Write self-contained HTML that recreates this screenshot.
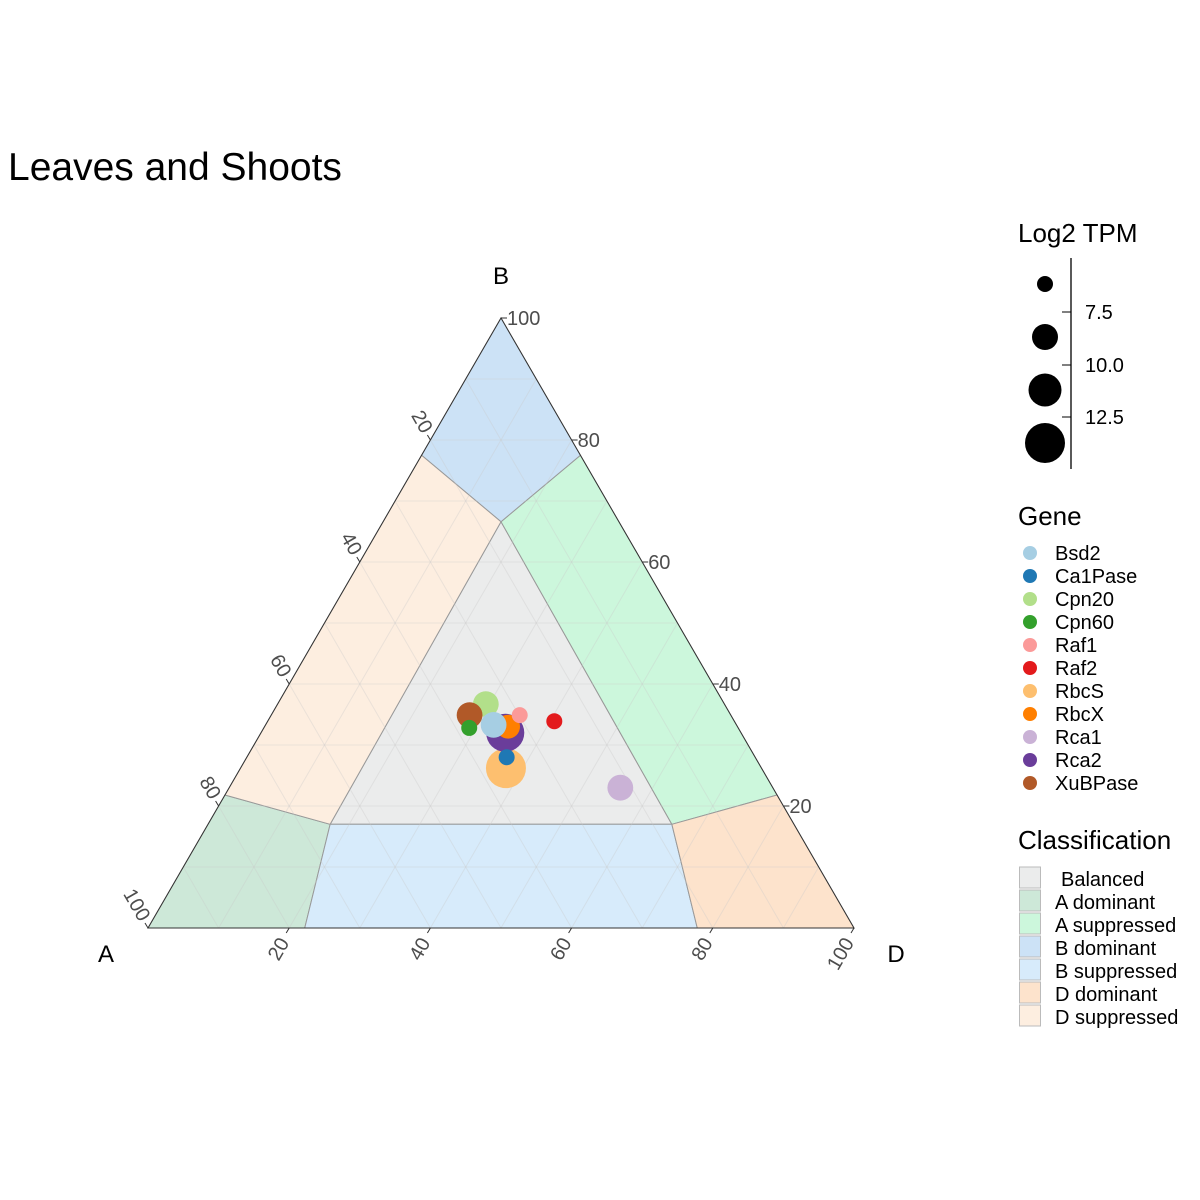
<!DOCTYPE html>
<html><head><meta charset="utf-8"><style>
body{margin:0;background:#fff;}
svg{display:block;font-family:"Liberation Sans",Arial,sans-serif;}
</style></head><body>
<svg id="chart" width="1200" height="1200" viewBox="0 0 1200 1200">
<text x="8" y="180" font-size="39" fill="#000">Leaves and Shoots</text>
<g id="regions"></g>
<g id="grid"></g>
<g id="axes"></g>
<g id="points"></g>
<text x="106" y="962" font-size="24" text-anchor="middle">A</text>
<text x="501" y="284" font-size="24" text-anchor="middle">B</text>
<text x="896" y="962" font-size="24" text-anchor="middle">D</text>
<g>
<text x="1018" y="242" font-size="26">Log2 TPM</text>
<line x1="1071" y1="258" x2="1071" y2="469" stroke="#000" stroke-width="1.3"/>
<line x1="1062" y1="312" x2="1071" y2="312" stroke="#000"/><text x="1085" y="319" font-size="20">7.5</text>
<line x1="1062" y1="365" x2="1071" y2="365" stroke="#000"/><text x="1085" y="372" font-size="20">10.0</text>
<line x1="1062" y1="417" x2="1071" y2="417" stroke="#000"/><text x="1085" y="424" font-size="20">12.5</text>
<circle cx="1045" cy="284" r="8"/><circle cx="1045" cy="337" r="13"/><circle cx="1045" cy="390" r="16.5"/><circle cx="1045" cy="443" r="20"/>
</g>
<g id="gene-legend">
<text x="1018" y="525" font-size="26">Gene</text>
</g>
<g id="class-legend">
<text x="1018" y="849" font-size="26">Classification</text>
</g>
</svg>
<script>
const NS="http://www.w3.org/2000/svg";
const geneNames=["Bsd2","Ca1Pase","Cpn20","Cpn60","Raf1","Raf2","RbcS","RbcX","Rca1","Rca2","XuBPase"];
const geneColors=["#a6cee3","#1f78b4","#b2df8a","#33a02c","#fb9a99","#e31a1c","#fdbf6f","#ff7f00","#cab2d6","#6a3d9a","#b15928"];
const valA=[0.344,0.352,0.338,0.381,0.299,0.255,0.362,0.325,0.216,0.334,0.370];
const valB=[0.333,0.280,0.367,0.328,0.349,0.339,0.262,0.330,0.230,0.320,0.349];
const valD=[0.323,0.368,0.295,0.291,0.352,0.406,0.376,0.345,0.554,0.346,0.281];
const log2tpm=[9.3,6.2,9.3,6.2,6.2,6.2,13.8,8.7,9.3,13.2,9.3];
const drawOrder=["RbcS","Rca2","Cpn20","XuBPase","Rca1","RbcX","Bsd2","Cpn60","Raf1","Raf2","Ca1Pase"];
const classNames=["Balanced","A dominant","A suppressed","B dominant","B suppressed","D dominant","D suppressed"];
const classColors=["#ebecec","#cde8d8","#ccf7dc","#cce2f6","#d7ebfb","#fde3cc","#fdeee0"];
const P={A:[1,0,0],B:[0,1,0],D:[0,0,1],L1:[0.225,0.775,0],L2:[0.782,0.218,0],R1:[0,0.775,0.225],R2:[0,0.218,0.782],
 Bo1:[0.778,0,0.222],Bo2:[0.222,0,0.778],Ct:[0.167,0.666,0.167],Cl:[0.657,0.17,0.173],Cr:[0.173,0.17,0.657]};
const classPolys=[["Ct","Cl","Cr"],["L2","A","Bo1","Cl"],["Ct","Cr","R2","R1"],["B","L1","Ct","R1"],["Cl","Bo1","Bo2","Cr"],["Cr","Bo2","D","R2"],["L1","L2","Cl","Ct"]];
const ticks=[20,40,60,80,100];
const AX=148,AY=928,BX=501,BY=318,DX=854,DY=928;
function px(a,b,d){const s=a+b+d;a/=s;b/=s;d/=s;return [a*AX+b*BX+d*DX,a*AY+b*BY+d*DY];}
function mk(tag,attrs,parent){const e=document.createElementNS(NS,tag);for(const k in attrs)e.setAttribute(k,attrs[k]);parent.appendChild(e);return e;}
const rg=document.getElementById('regions');
classPolys.forEach((poly,i)=>{
 const pts=poly.map(k=>px(...P[k]).join(',')).join(' ');
 const e=mk('polygon',{points:pts,fill:classColors[i],stroke:'#999',"stroke-width":1},rg);
 
 
});
const gg=document.getElementById('grid');
for(let k=1;k<10;k++){const t=k/10;
 [[px(t,1-t,0),px(t,0,1-t)],[px(1-t,t,0),px(0,t,1-t)],[px(1-t,0,t),px(0,1-t,t)]].forEach(s=>{
  const e=mk('line',{x1:s[0][0],y1:s[0][1],x2:s[1][0],y2:s[1][1],stroke:'#c8c8c8',"stroke-opacity":0.35,"stroke-width":1},gg);
  
  
 });}
const ax=document.getElementById('axes');
mk('polygon',{points:`${AX},${AY} ${BX},${BY} ${DX},${DY}`,fill:'none',stroke:'#333',"stroke-width":1},ax);
ticks.forEach(v=>{const t=v/100;
 let p=px(1-t,0,t);
 mk('line',{x1:p[0],y1:p[1],x2:p[0]-3,y2:p[1]+5,stroke:'#333'},ax);
 let e=mk('text',{x:p[0]-4,y:p[1]+12,"font-size":20,fill:'#4d4d4d',"text-anchor":'end',transform:`rotate(-60 ${p[0]-4} ${p[1]+12})`,"dominant-baseline":'middle'},ax);e.textContent=v;
 
 p=px(0,t,1-t);
 mk('line',{x1:p[0],y1:p[1],x2:p[0]+6,y2:p[1],stroke:'#333'},ax);
 e=mk('text',{x:p[0]+6,y:p[1]+7,"font-size":20,fill:'#4d4d4d'},ax);e.textContent=v;
 
 p=px(t,1-t,0);
 mk('line',{x1:p[0],y1:p[1],x2:p[0]-3,y2:p[1]-5,stroke:'#333'},ax);
 e=mk('text',{x:p[0]-4,y:p[1]-8,"font-size":20,fill:'#4d4d4d',"text-anchor":'end',transform:`rotate(60 ${p[0]-4} ${p[1]-8})`,"dominant-baseline":'middle'},ax);e.textContent=v;
 
});
function rad(v){return 8+(v-6.2)*(12/7.6);}
const pg=document.getElementById('points');
drawOrder.forEach(n=>{const i=geneNames.indexOf(n);const p=px(valA[i],valB[i],valD[i]);
 const c=mk('circle',{cx:p[0],cy:p[1],r:rad(log2tpm[i]),fill:geneColors[i]},pg);
 
 
});
const gl=document.getElementById('gene-legend');
geneNames.forEach((n,i)=>{const y=553+i*23;
 const c=mk('circle',{cx:1030,cy:y,r:7,fill:geneColors[i]},gl);
 
 
 const t=mk('text',{x:1055,y:y+7,"font-size":20},gl);t.textContent=n;
 
 
});
const cl=document.getElementById('class-legend');
classNames.forEach((n,i)=>{const y=878+i*23;
 const r=mk('rect',{x:1019.5,y:y-11,width:21,height:21,fill:classColors[i],stroke:'#bbb'},cl);
 
 
 const t=mk('text',{x:n==="Balanced"?1061:1055,y:y+8,"font-size":20},cl);t.textContent=n;
 
 
});
</script>
</body></html>
